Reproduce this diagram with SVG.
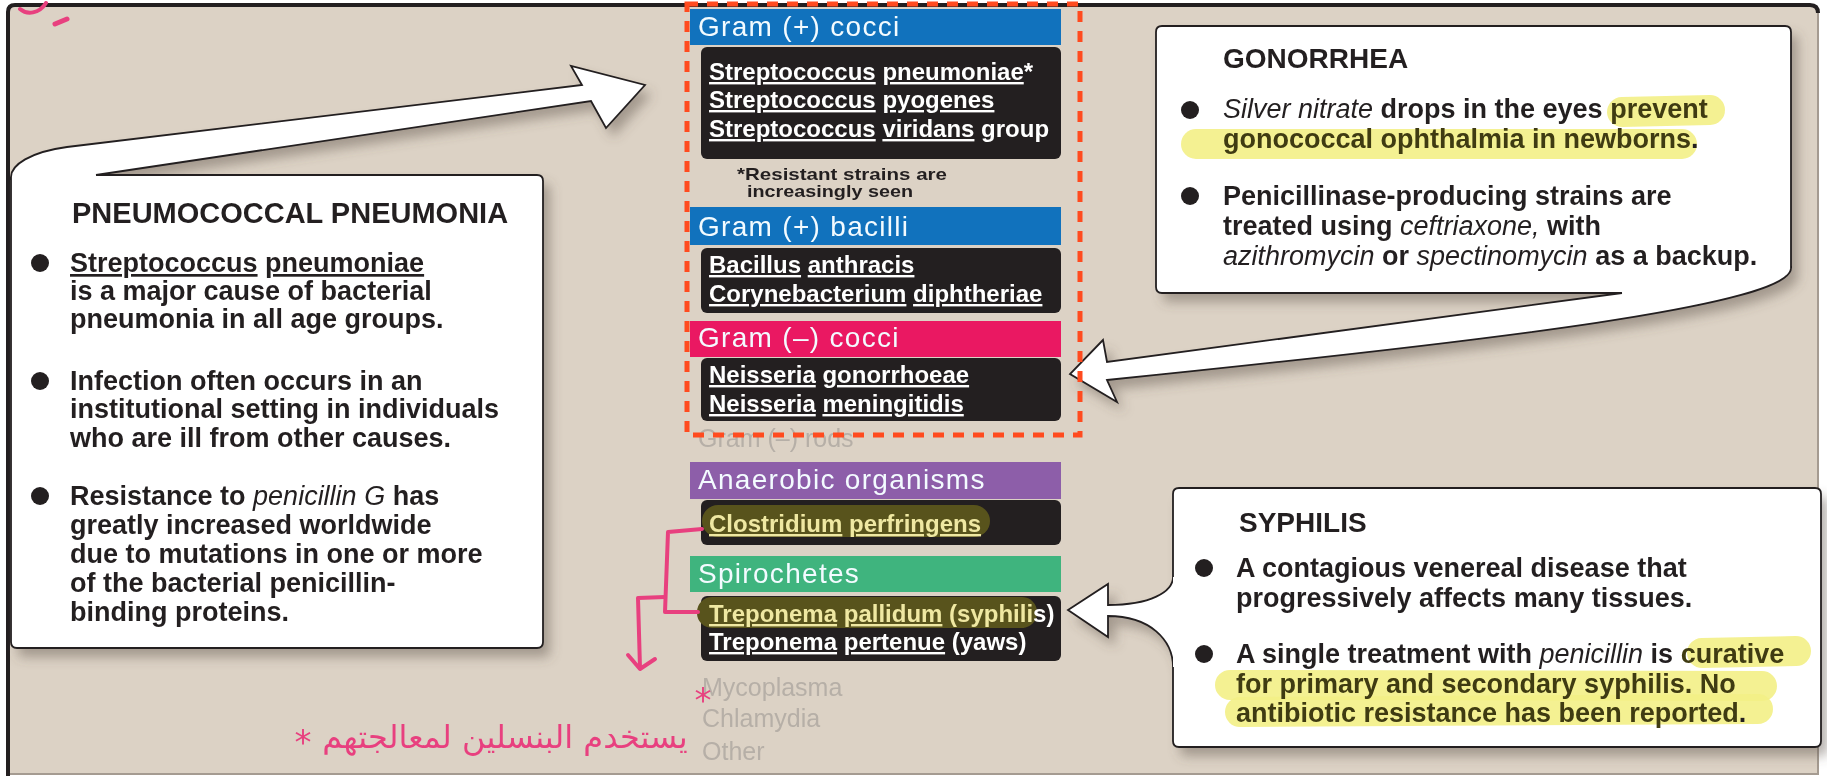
<svg xmlns="http://www.w3.org/2000/svg" width="1827" height="780" viewBox="0 0 1827 780">
<defs>
<style>
text{font-family:"Liberation Sans",Arial,sans-serif}
.hd{font-size:28px;fill:#f3fbff;letter-spacing:1.3px}
.bk{font-size:24px;font-weight:bold;fill:#fff}
.u{text-decoration:underline}
.body{font-size:27px;font-weight:bold;fill:#231f20}
.it{font-style:italic;font-weight:normal}
.ttl{font-size:29px;font-weight:bold;fill:#231f20}
.gray{font-size:25px;fill:#b6afa7}
.note{font-size:17px;font-weight:bold;fill:#231f20}
.hl{fill:#3f3b12}
.hlk{fill:#efe8a2}
.card{fill:#fff;stroke:#231f20;stroke-width:1.8;stroke-linejoin:round}
.cfill{fill:#fff}
.cline{fill:none;stroke:#231f20;stroke-width:1.8;stroke-linejoin:miter}
.shadow{fill:#5e5349;opacity:.45}
.blk{fill:#231f20}
.ink{fill:none;stroke:#e8407f;stroke-width:4;stroke-linecap:round;stroke-linejoin:round}
.ar{font-family:"DejaVu Sans",sans-serif;fill:#e8407f;font-size:32px}
.star{font-family:"DejaVu Sans",sans-serif;fill:#e8407f;font-size:34px}
.hmark{fill:none;stroke:#f3ef86;stroke-width:30;stroke-linecap:round;opacity:.9}
.dot{fill:#231f20}
</style>
<filter id="blur" x="-10%" y="-10%" width="120%" height="130%"><feGaussianBlur stdDeviation="6"/></filter>
</defs>

<!-- background & frame -->
<rect x="0" y="0" width="1827" height="780" fill="#fff"/>
<path d="M7,775 V13 Q7,5 15,5 H1810 Q1818,5 1818,13 V775 Z" fill="#dcd2c5"/>
<path d="M1818,13 V774 H8" stroke="#a59b91" stroke-width="2" fill="none"/>
<path d="M8,776 V12 Q8,5 15,5 H1810 Q1818,5 1818,13" stroke="#231f20" stroke-width="4" fill="none"/>

<!-- shadows -->
<g id="shadows" filter="url(#blur)" transform="translate(7,9)">
<path class="shadow" d="M11,177 C11,165 30,152 67,147 L582,85 L571,66 L645,85 L606,128 L591,101 L96,175 H537 Q543,175 543,181 V642 Q543,648 537,648 H17 Q11,648 11,642 Z"/>
<path class="shadow" d="M1162,26 H1785 Q1791,26 1791,32 V268 C1791,305 1500,340 1107,380 L1117,402 L1070,374 L1103,340 L1107,362 L1622,293 H1162 Q1156,293 1156,287 V32 Z"/>
<path class="shadow" d="M1179,488 H1815 Q1821,488 1821,494 V741 Q1821,747 1815,747 H1179 Q1173,747 1173,741 V667 C1173,640 1150,616 1108,616 L1108,637 L1068,610 L1108,584 L1108,605 C1150,605 1173,592 1173,577 V494 Z"/>
</g>

<!-- connectors -->
<g id="connectors">
<path class="cfill" d="M11,190 V177 C11,165 30,152 67,147 L582,85 L571,66 L645,85 L606,128 L591,101 L96,175 L96,190 Z"/>
<path class="cline" d="M11,180 V177 C11,165 30,152 67,147 L582,85 L571,66 L645,85 L606,128 L591,101 L96,175"/>
<path class="cfill" d="M1791,268 C1791,305 1500,340 1107,380 L1117,402 L1070,374 L1103,340 L1107,362 L1622,293 L1622,282 L1791,262 Z"/>
<path class="cline" d="M1791,266 V268 C1791,305 1500,340 1107,380 L1117,402 L1070,374 L1103,340 L1107,362 L1622,293"/>
<path class="cfill" d="M1173,577 C1173,592 1150,605 1108,605 L1108,584 L1068,610 L1108,637 L1108,616 C1150,616 1173,640 1173,667 L1185,667 L1185,577 Z"/>
<path class="cline" d="M1173,577 C1173,592 1150,605 1108,605 L1108,584 L1068,610 L1108,637 L1108,616 C1150,616 1173,640 1173,667"/>
</g>

<!-- Pneumococcal pneumonia -->
<g id="pneumonia">
<path class="card" d="M96,175 H537 Q543,175 543,181 V642 Q543,648 537,648 H17 Q11,648 11,642 V177"/>
<text class="ttl" x="72" y="223">PNEUMOCOCCAL PNEUMONIA</text>
<circle class="dot" cx="40" cy="263" r="9"/>
<circle class="dot" cx="40" cy="381" r="9"/>
<circle class="dot" cx="40" cy="496" r="9"/>
<text class="body" x="70" y="272"><tspan class="u">Streptococcus</tspan> <tspan class="u">pneumoniae</tspan></text>
<text class="body" x="70" y="300">is a major cause of bacterial</text>
<text class="body" x="70" y="328">pneumonia in all age groups.</text>
<text class="body" x="70" y="390">Infection often occurs in an</text>
<text class="body" x="70" y="418">institutional setting in individuals</text>
<text class="body" x="70" y="447">who are ill from other causes.</text>
<text class="body" x="70" y="505">Resistance to <tspan class="it">penicillin G</tspan> has</text>
<text class="body" x="70" y="534">greatly increased worldwide</text>
<text class="body" x="70" y="563">due to mutations in one or more</text>
<text class="body" x="70" y="592">of the bacterial penicillin-</text>
<text class="body" x="70" y="621">binding proteins.</text>
</g>

<!-- Gonorrhea -->
<g id="gonorrhea">
<path class="card" d="M1622,293 H1162 Q1156,293 1156,287 V32 Q1156,26 1162,26 H1785 Q1791,26 1791,32 V268"/>
<path class="hmark" d="M1622,112 L1710,110"/>
<path class="hmark" d="M1196,144 L1682,144"/>
<text class="ttl" x="1223" y="68" style="font-size:28px">GONORRHEA</text>
<circle class="dot" cx="1190" cy="110" r="9"/>
<circle class="dot" cx="1190" cy="196" r="9"/>
<text class="body" x="1223" y="118"><tspan class="it">Silver nitrate</tspan> drops in the eyes <tspan class="hl">prevent</tspan></text>
<text class="body" x="1223" y="148"><tspan class="hl">gonococcal ophthalmia in newborns</tspan>.</text>
<text class="body" x="1223" y="205">Penicillinase-producing strains are</text>
<text class="body" x="1223" y="235">treated using <tspan class="it">ceftriaxone,</tspan> with</text>
<text class="body" x="1223" y="265"><tspan class="it">azithromycin</tspan> or <tspan class="it">spectinomycin</tspan> as a backup.</text>
</g>

<!-- Syphilis -->
<g id="syphilis">
<path class="card" d="M1173,667 V741 Q1173,747 1179,747 H1815 Q1821,747 1821,741 V494 Q1821,488 1815,488 H1179 Q1173,488 1173,494 V577"/>
<path class="hmark" d="M1702,653 L1796,651"/>
<path class="hmark" d="M1230,685 L1762,686"/>
<path class="hmark" d="M1240,712 L1758,709"/>
<text class="ttl" x="1239" y="532" style="font-size:28px">SYPHILIS</text>
<circle class="dot" cx="1204" cy="568" r="9"/>
<circle class="dot" cx="1204" cy="654" r="9"/>
<text class="body" x="1236" y="577">A contagious venereal disease that</text>
<text class="body" x="1236" y="607">progressively affects many tissues.</text>
<text class="body" x="1236" y="663">A single treatment with <tspan class="it">penicillin</tspan> is <tspan class="hl">curative</tspan></text>
<text class="body" x="1236" y="693"><tspan class="hl">for primary and secondary syphilis. No</tspan></text>
<text class="body" x="1236" y="722"><tspan class="hl">antibiotic resistance has been reported</tspan>.</text>
</g>

<!-- Middle column -->
<g id="gram-pos-cocci">
<rect x="690" y="9" width="371" height="36" fill="#1172bd"/>
<text class="hd" x="698" y="36">Gram (+) cocci</text>
<rect class="blk" x="701" y="47" width="360" height="112" rx="6"/>
<text class="bk" x="709" y="80"><tspan class="u">Streptococcus</tspan> <tspan class="u">pneumoniae</tspan>*</text>
<text class="bk" x="709" y="108"><tspan class="u">Streptococcus</tspan> <tspan class="u">pyogenes</tspan></text>
<text class="bk" x="709" y="137"><tspan class="u">Streptococcus</tspan> <tspan class="u">viridans</tspan> group</text>
<text class="note" x="737" y="180" textLength="210" lengthAdjust="spacingAndGlyphs">*Resistant strains are</text>
<text class="note" x="747" y="197" textLength="166" lengthAdjust="spacingAndGlyphs">increasingly seen</text>
</g>

<g id="gram-pos-bacilli">
<rect x="690" y="207" width="371" height="38" fill="#1172bd"/>
<text class="hd" x="698" y="236">Gram (+) bacilli</text>
<rect class="blk" x="701" y="248" width="360" height="65" rx="6"/>
<text class="bk" x="709" y="273"><tspan class="u">Bacillus</tspan> <tspan class="u">anthracis</tspan></text>
<text class="bk" x="709" y="302"><tspan class="u">Corynebacterium</tspan> <tspan class="u">diphtheriae</tspan></text>
</g>

<g id="gram-neg-cocci">
<rect x="690" y="321" width="371" height="36" fill="#ea1862"/>
<text class="hd" x="698" y="347">Gram (–) cocci</text>
<rect class="blk" x="701" y="358" width="360" height="63" rx="6"/>
<text class="bk" x="709" y="383"><tspan class="u">Neisseria</tspan> <tspan class="u">gonorrhoeae</tspan></text>
<text class="bk" x="709" y="412"><tspan class="u">Neisseria</tspan> <tspan class="u">meningitidis</tspan></text>
</g>

<g id="gram-neg-rods">
<text class="gray" x="698" y="447">Gram (–) rods</text>
</g>

<g id="anaerobic">
<rect x="690" y="462" width="371" height="37" fill="#8d5ea9"/>
<text class="hd" x="698" y="489">Anaerobic organisms</text>
<rect class="blk" x="701" y="500" width="360" height="45" rx="6"/>
<rect x="702" y="505" width="288" height="32" rx="16" fill="#58531c"/>
<text class="bk" x="709" y="532"><tspan class="u hlk">Clostridium</tspan> <tspan class="u hlk">perfringens</tspan></text>
</g>

<g id="spirochetes">
<rect x="690" y="556" width="371" height="36" fill="#3fb47e"/>
<text class="hd" x="698" y="583">Spirochetes</text>
<rect class="blk" x="701" y="596" width="360" height="65" rx="6"/>
<rect x="697" y="597" width="340" height="31" rx="15" fill="#58531c"/>
<text class="bk" x="709" y="622"><tspan class="u hlk">Treponema</tspan> <tspan class="u hlk">pallidum</tspan> <tspan class="hlk">(syphili</tspan>s)</text>
<text class="bk" x="709" y="650"><tspan class="u">Treponema</tspan> <tspan class="u">pertenue</tspan> (yaws)</text>
</g>

<g id="others">
<text class="gray" x="702" y="696">Mycoplasma</text>
<text class="gray" x="702" y="727">Chlamydia</text>
<text class="gray" x="702" y="760">Other</text>
</g>

<!-- selection frame -->
<rect x="687" y="4" width="393" height="431" fill="none" stroke="#ff4b1f" stroke-width="5" stroke-dasharray="11 9"/>

<!-- handwritten annotations -->
<g id="annotations">
<path class="ink" d="M702,529 L668,532 L665,612 L698,612"/>
<path class="ink" d="M665,597 L638,598 L640,668"/>
<path class="ink" d="M628,655 L640,669 L655,659"/>
<path class="ink" d="M20,9 C27,15 39,14 46,3"/>
<path class="ink" d="M55,24 L67,19" style="stroke-width:5"/>
<text class="ar" x="505" y="748" text-anchor="middle">يستخدم البنسلين لمعالجتهم</text>
<text class="star" x="303" y="754" text-anchor="middle">*</text>
<text class="star" x="703" y="712" text-anchor="middle">*</text>
</g>
</svg>
